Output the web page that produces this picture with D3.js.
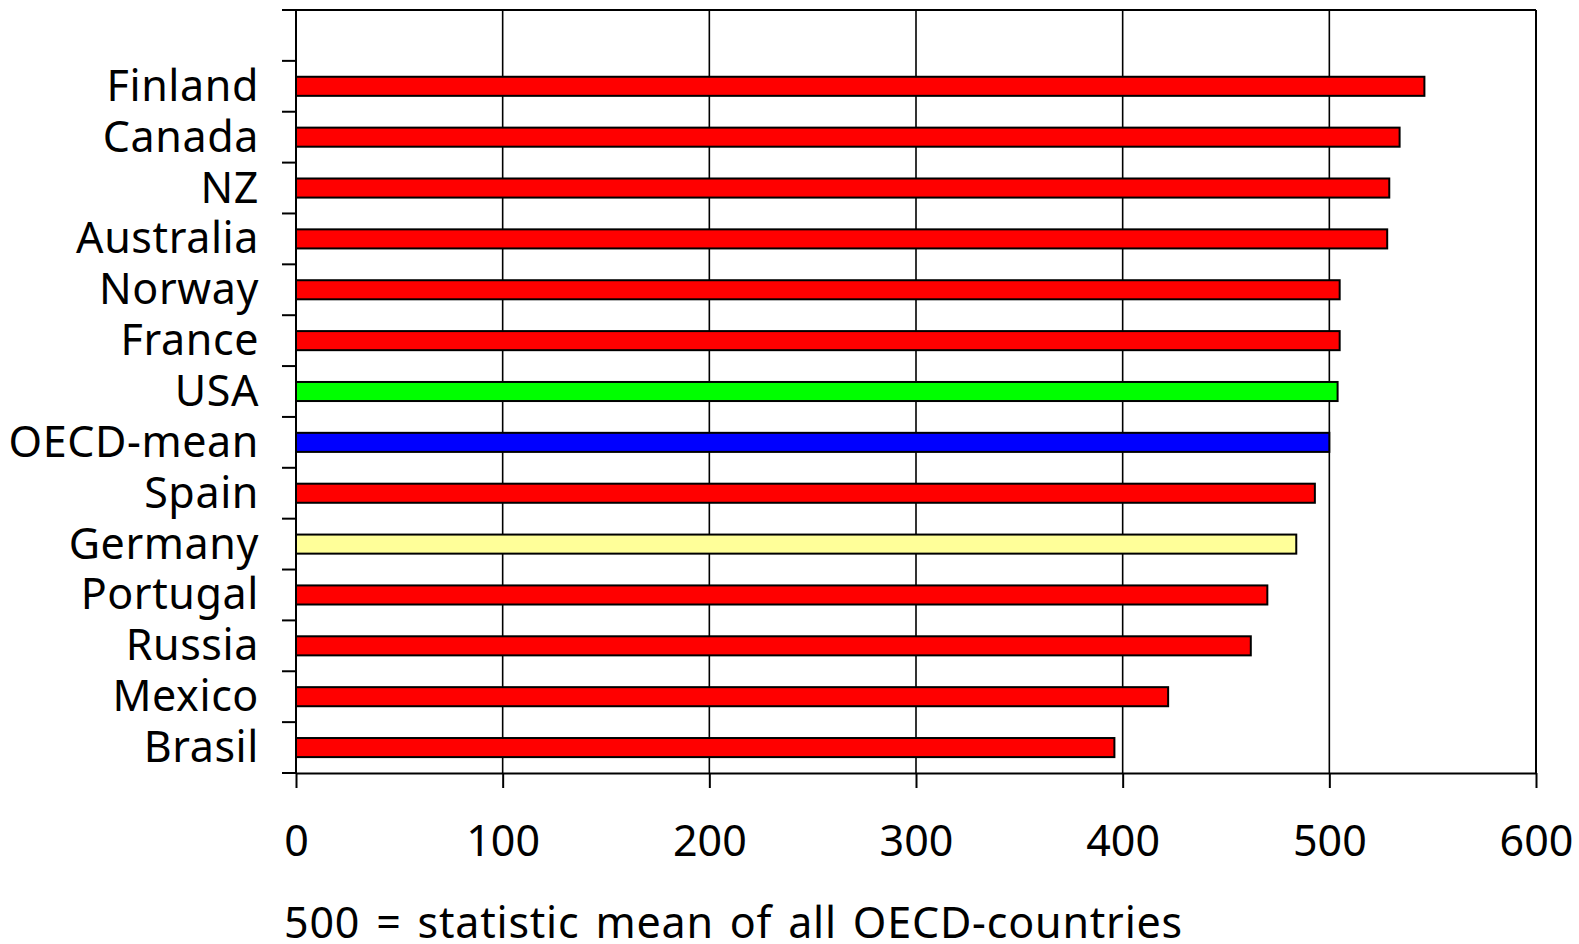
<!DOCTYPE html>
<html>
<head>
<meta charset="utf-8">
<script src="https://cdn.jsdelivr.net/npm/d3@7"></script>
<style>
  html, body { margin: 0; padding: 0; background: #fff; }
  svg { display: block; }
  text { font-family: "Noto Sans", "Open Sans", sans-serif; fill: #000; }
</style>
</head>
<body>
<svg id="chart" width="1579" height="944"></svg>
<script>
const countries = ["Finland","Canada","NZ","Australia","Norway","France","USA","OECD-mean","Spain","Germany","Portugal","Russia","Mexico","Brasil"];
const scores = [546, 534, 529, 528, 505, 505, 504, 500, 493, 484, 470, 462, 422, 396];
const barColors = ["#ff0000","#ff0000","#ff0000","#ff0000","#ff0000","#ff0000","#00ff00","#0000ff","#ff0000","#ffff99","#ff0000","#ff0000","#ff0000","#ff0000"];
const xTicks = [0, 100, 200, 300, 400, 500, 600];
const footnote = "500 = statistic mean of all OECD-countries";

(function () {
const svg = d3.select("#chart");
const pLeft = 296, pRight = 1536, pTop = 10, pBottom = 773;

const x = d3.scaleLinear().domain([0, 600]).range([pLeft, pRight]);
// one empty slot at the top, as in the original
const y = d3.scaleBand().domain(["__blank__"].concat(countries)).range([pTop, pBottom]).paddingInner(0).paddingOuter(0);
const bw = y.bandwidth();
const barH = bw * 0.375;

// vertical gridlines
svg.append("g").selectAll("line").data(xTicks.slice(1, -1)).join("line")
  .attr("x1", d => x(d)).attr("x2", d => x(d))
  .attr("y1", pTop).attr("y2", pBottom)
  .attr("stroke", "#000").attr("stroke-width", 1.6);

// frame: top and right
svg.append("line").attr("x1", pLeft).attr("x2", pRight).attr("y1", pTop).attr("y2", pTop)
  .attr("stroke", "#000").attr("stroke-width", 2);
svg.append("line").attr("x1", pRight).attr("x2", pRight).attr("y1", pTop).attr("y2", pBottom)
  .attr("stroke", "#000").attr("stroke-width", 2);

// bars
svg.append("g").selectAll("rect").data(countries).join("rect")
  .attr("x", x(0))
  .attr("y", d => y(d) + bw / 2 - barH / 2)
  .attr("width", (d, i) => x(scores[i]) - x(0))
  .attr("height", barH)
  .attr("fill", (d, i) => barColors[i])
  .attr("stroke", "#000").attr("stroke-width", 2);

// x axis
const xAxis = d3.axisBottom(x).tickValues(xTicks).tickSizeInner(15).tickSizeOuter(0).tickPadding(37);
const gx = svg.append("g").attr("transform", `translate(0,${pBottom})`).call(xAxis);
gx.select(".domain").attr("stroke", "#000").attr("stroke-width", 2);
gx.selectAll(".tick line").attr("stroke", "#000").attr("stroke-width", 2);
gx.selectAll(".tick text").attr("font-size", 43).attr("font-family", "Noto Sans").attr("fill", "#000");

// y axis line and ticks at band boundaries
svg.append("line").attr("x1", pLeft).attr("x2", pLeft).attr("y1", pTop).attr("y2", pBottom)
  .attr("stroke", "#000").attr("stroke-width", 2);
const bounds = y.domain().map(d => y(d)).concat([pBottom]);
svg.append("g").selectAll("line").data(bounds).join("line")
  .attr("x1", pLeft - 14).attr("x2", pLeft)
  .attr("y1", d => d).attr("y2", d => d)
  .attr("stroke", "#000").attr("stroke-width", 2);

// category labels
svg.append("g").selectAll("text").data(countries).join("text")
  .attr("x", 259)
  .attr("y", d => y(d) + bw / 2 + 14.5)
  .attr("text-anchor", "end")
  .attr("font-size", 43)
  .attr("letter-spacing", 0.6)
  .text(d => d);

// footnote
svg.append("text").attr("x", 284).attr("y", 938).attr("font-size", 43)
  .attr("letter-spacing", 0.8).attr("word-spacing", 4).text(footnote);
})();
</script>
</body>
</html>
